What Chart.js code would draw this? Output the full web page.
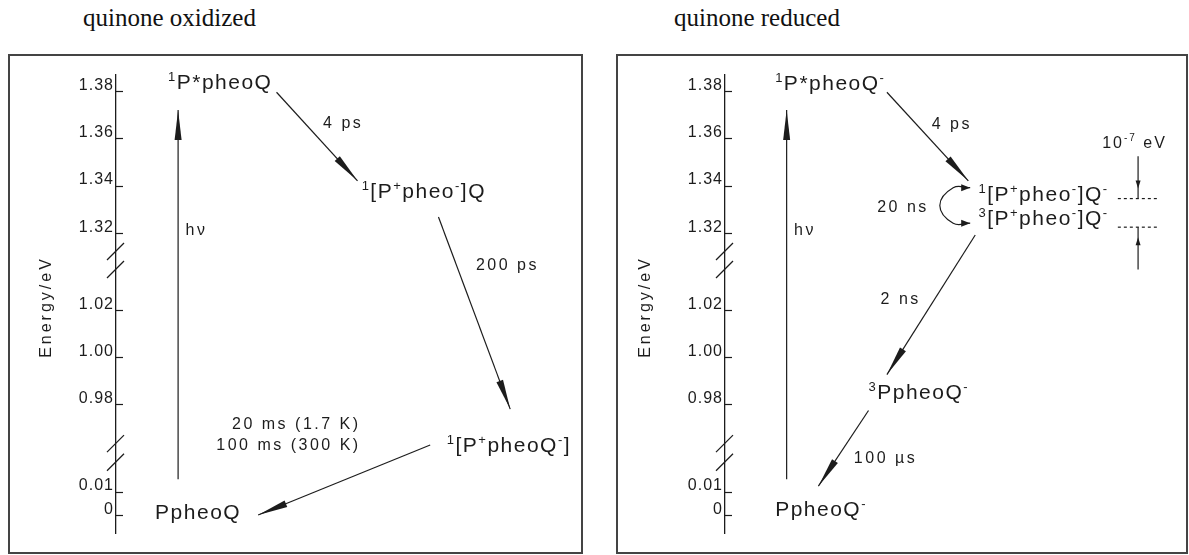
<!DOCTYPE html>
<html>
<head>
<meta charset="utf-8">
<title>Radical pair energy levels</title>
<script src="https://cdn.jsdelivr.net/npm/chart.js@4.4.1/dist/chart.umd.min.js"></script>
<style>
  body { margin: 0; background: #fff; }
  #page { position: relative; width: 1189px; height: 555px; overflow: hidden; }
  .heading { position: absolute; top: 6px; font: 25px/24px "Liberation Serif", "Times New Roman", serif; color: #111; }
  .panel { position: absolute; top: 54px; border: 2px solid #444; }
  .panel canvas { display: block; }
</style>
</head>
<body>
<div id="page">
  <div class="heading" style="left: 83px">quinone oxidized</div>
  <div class="heading" style="left: 674px">quinone reduced</div>
  <div class="panel" style="left: 8px"><canvas id="chartOx" width="571" height="496"></canvas></div>
  <div class="panel" style="left: 616px"><canvas id="chartRed" width="568" height="496"></canvas></div>
</div>
<script>
// energy axis: tick positions on the (broken) level scale and their labels in eV
const tickLevels = [0, 1, 4.7, 6.7, 8.7, 11.95, 13.95, 15.95, 17.95];
const tickLabels = ["0", "0.01", "0.98", "1.00", "1.02", "1.32", "1.34", "1.36", "1.38"];
const axisBreaks = [[2.26, 3.05], [10.42, 11.18]];

// quinone oxidized
const oxStates = ["^{1}P*pheoQ", "^{1}[P^{+}pheo^{-}]Q", "^{1}[P^{+}pheoQ^{-}]", "PpheoQ"];
const oxStateCol = [11.3, 53.4, 71.9, 8.5];
const oxStateLevel = [18.04, 13.45, 2.71, -0.12];
const oxArrowFrom = [[34.9, 17.92], [70.1, 12.64], [68.3, 2.99], [13.5, 1.54]];
const oxArrowTo = [[52.5, 14.17], [85.7, 4.51], [30.9, 0.03], [13.5, 17.17]];
const oxRates = ["4 ps", "200 ps", "20 ms (1.7 K)", "100 ms (300 K)", "hν"];
const oxRateCol = [49.4, 85.1, 39.2, 37.5, 17.5];
const oxRateLevel = [16.39, 10.39, 3.68, 2.78, 11.88];

// quinone reduced
const redStates = ["^{1}P*pheoQ^{-}", "^{1}[P^{+}pheo^{-}]Q^{-}", "^{3}[P^{+}pheo^{-}]Q^{-}", "^{3}PpheoQ^{-}", "PpheoQ^{-}"];
const redStateCol = [10.9, 55.1, 55.1, 31.2, 10.9];
const redStateLevel = [18.03, 13.33, 12.29, 4.93, 0];
const redArrowFrom = [[35.2, 17.92], [54.4, 11.88], [31.2, 4.45], [13.4, 1.54]];
const redArrowTo = [[52.9, 14.17], [35.2, 5.97], [20.3, 1.25], [13.4, 17.17]];
const redRates = ["4 ps", "20 ns", "2 ns", "100 µs", "hν"];
const redRateCol = [49.3, 38.7, 38.2, 34.9, 17.4];
const redRateLevel = [16.38, 12.85, 8.96, 2.22, 11.88];
const iscCurveCol = [53.3, 49.6, 46.7, 49.6, 53.3];
const iscCurveLevel = [13.88, 13.88, 13.13, 12.38, 12.38];
const splitLineCol = [85.4, 93.9];
const splitLineLevel = [13.42, 12.21];
const splitArrowCol = 89.8;
const splitArrowFrom = [15.21, 10.42];
const splitArrowTo = [13.42, 12.21];
const splitLabel = "10^{-7} eV";
const splitLabelCol = 82.0;
const splitLabelLevel = 15.58;

const ink = "#1c1c1c";
const sans = '"Liberation Sans", Arial, sans-serif';

// text with ^{...} superscripts
function drawRich(ctx, text, x, y, size, spacing, align) {
  const parts = [];
  for (const m of text.matchAll(/\^\{([^}]*)\}|[^^]+/g)) {
    parts.push(m[1] !== undefined ? { t: m[1], sup: true } : { t: m[0], sup: false });
  }
  ctx.letterSpacing = spacing + "px";
  const supSize = Math.round(size * 0.64);
  let w = 0;
  parts.forEach((p) => {
    ctx.font = (p.sup ? supSize : size) + "px " + sans;
    p.w = ctx.measureText(p.t).width;
    w += p.w;
  });
  if (align === "center") x -= w / 2;
  parts.forEach((p) => {
    ctx.font = (p.sup ? supSize : size) + "px " + sans;
    ctx.fillText(p.t, x, p.sup ? y - size * 0.38 : y);
    x += p.w;
  });
}

function drawHead(ctx, from, to, t, len, half) {
  const tipX = from.x + (to.x - from.x) * t;
  const tipY = from.y + (to.y - from.y) * t;
  const a = Math.atan2(to.y - from.y, to.x - from.x);
  ctx.save();
  ctx.translate(tipX, tipY);
  ctx.rotate(a);
  ctx.beginPath();
  ctx.moveTo(0, 0);
  ctx.lineTo(-len, half);
  ctx.lineTo(-len, -half);
  ctx.closePath();
  ctx.fill();
  ctx.restore();
}

function lineSet(cols, levels, extra) {
  return Object.assign(
    {
      data: cols.map((c, i) => ({ x: c, y: levels[i] })),
      showLine: true,
      pointRadius: 0,
      borderColor: ink,
      borderWidth: 1.2,
      heads: [],
    },
    extra
  );
}

function arrowSets(from, to) {
  return from.map((f, i) =>
    lineSet([f[0], to[i][0]], [f[1], to[i][1]], { heads: [{ a: 0, b: 1, t: 1, len: 30, half: 3.5 }] })
  );
}

function diagramLayer(panel, titleX) {
  return {
    id: "diagramLayer",
    beforeDraw(chart) {
      // spacing for the tick labels
      chart.ctx.letterSpacing = "1px";
    },
    afterDatasetsDraw(chart) {
      const ctx = chart.ctx;
      const xs = chart.scales.x;
      const ys = chart.scales.y;
      ctx.save();
      ctx.fillStyle = ink;
      ctx.strokeStyle = ink;
      chart.data.datasets.forEach((ds, i) => {
        const pts = chart.getDatasetMeta(i).data;
        ds.heads.forEach((h) => drawHead(ctx, pts[h.a], pts[h.b], h.t, h.len, h.half));
      });
      // break marks on the energy axis
      const ax = chart.chartArea.left - 0.5;
      ctx.lineWidth = 1.3;
      axisBreaks.forEach((pair) =>
        pair.forEach((level) => {
          const y = ys.getPixelForValue(level);
          ctx.beginPath();
          ctx.moveTo(ax - 8.5, y + 8.5);
          ctx.lineTo(ax + 8.5, y - 8.5);
          ctx.stroke();
        })
      );
      // axis title, rotated
      ctx.save();
      ctx.translate(titleX, (chart.chartArea.top + chart.chartArea.bottom) / 2 + 3);
      ctx.rotate(-Math.PI / 2);
      ctx.textAlign = "center";
      ctx.textBaseline = "middle";
      ctx.letterSpacing = "3px";
      ctx.font = "16px " + sans;
      ctx.fillText("Energy/eV", 0, 0);
      ctx.restore();

      ctx.textBaseline = "alphabetic";
      ctx.textAlign = "left";
      panel.states.forEach((s, i) =>
        drawRich(ctx, s, xs.getPixelForValue(panel.stateCol[i]), ys.getPixelForValue(panel.stateLevel[i]), 21, 1.5, "left")
      );
      panel.rates.forEach((r, i) =>
        drawRich(ctx, r, xs.getPixelForValue(panel.rateCol[i]), ys.getPixelForValue(panel.rateLevel[i]), 16, 2.5, "center")
      );
      if (panel.note) {
        drawRich(ctx, panel.note, xs.getPixelForValue(panel.noteCol), ys.getPixelForValue(panel.noteLevel), 16, 2, "left");
      }
      ctx.restore();
    },
  };
}

function makeDiagram(canvasId, panel, datasets, yWidth, padLeft, padRight, titleX) {
  return new Chart(document.getElementById(canvasId), {
    type: "scatter",
    data: { datasets: datasets },
    options: {
      responsive: false,
      animation: false,
      events: [],
      devicePixelRatio: 1,
      layout: { padding: { left: padLeft, right: padRight, top: 16, bottom: 14 } },
      plugins: { legend: { display: false }, tooltip: { enabled: false } },
      scales: {
        x: { type: "linear", min: 0, max: 100, display: false },
        y: {
          type: "linear",
          min: -0.75,
          max: 18.667,
          afterBuildTicks: (s) => {
            s.ticks = tickLevels.map((v) => ({ value: v }));
          },
          afterFit: (s) => {
            s.width = yWidth;
          },
          ticks: {
            autoSkip: false,
            padding: 9,
            labelOffset: -6,
            color: ink,
            font: { family: sans, size: 16 },
            callback: (v, i) => tickLabels[i],
          },
          grid: { drawOnChartArea: false, tickLength: -7, tickColor: ink, tickWidth: 1.2 },
          border: { color: ink, width: 1.3 },
        },
      },
    },
    plugins: [diagramLayer(panel, titleX)],
  });
}

makeDiagram(
  "chartOx",
  { states: oxStates, stateCol: oxStateCol, stateLevel: oxStateLevel, rates: oxRates, rateCol: oxRateCol, rateLevel: oxRateLevel },
  arrowSets(oxArrowFrom, oxArrowTo),
  83, 23, 5, 37
);

const redSets = arrowSets(redArrowFrom, redArrowTo);
redSets.push(
  lineSet(iscCurveCol, iscCurveLevel, {
    tension: 0.45,
    heads: [
      { a: 1, b: 0, t: 1, len: 9, half: 3.5 },
      { a: 3, b: 4, t: 1, len: 9, half: 3.5 },
    ],
  })
);
splitLineLevel.forEach((lv) => redSets.push(lineSet(splitLineCol, [lv, lv], { borderDash: [3, 3] })));
splitArrowFrom.forEach((lv, i) =>
  redSets.push(
    lineSet([splitArrowCol, splitArrowCol], [lv, splitArrowTo[i]], { heads: [{ a: 0, b: 1, t: 0.76, len: 8, half: 2.5 }] })
  )
);

makeDiagram(
  "chartRed",
  {
    states: redStates, stateCol: redStateCol, stateLevel: redStateLevel,
    rates: redRates, rateCol: redRateCol, rateLevel: redRateLevel,
    note: splitLabel, noteCol: splitLabelCol, noteLevel: splitLabelLevel,
  },
  redSets,
  93, 14, 1, 27.5
);
</script>
</body>
</html>
